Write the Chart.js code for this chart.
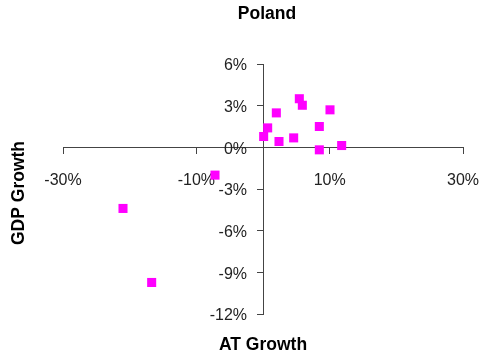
<!DOCTYPE html>
<html>
<head>
<meta charset="utf-8">
<script src="https://cdn.jsdelivr.net/npm/chart.js@4/dist/chart.umd.min.js"></script>
<style>
html,body{margin:0;padding:0;background:#fff;}
#wrap{width:486px;height:360px;position:relative;}
</style>
</head>
<body>
<div id="wrap"><canvas id="c" width="486" height="360"></canvas></div>
<script>
const chartTitle = "Poland";
const xAxisTitle = "AT Growth";
const yAxisTitle = "GDP Growth";
const atGrowth  = [0.1, 0.7, 2.0, 2.4, 4.6, 5.45, 5.9, 8.45, 8.45, 10.05, 11.8, -7.2, -21.0, -16.7];
const gdpGrowth = [0.78, 1.4, 2.48, 0.42, 0.68, 3.5, 3.03, 1.5, -0.18, 2.7, 0.13, -2.0, -4.4, -9.73];
const xTicks = [-30, -10, 10, 30];
const yTicks = [-12, -9, -6, -3, 0, 3, 6];

const points = atGrowth.map((x, i) => ({x: x, y: gdpGrowth[i]}));
const FONT = "'Liberation Sans', Arial, sans-serif";

const textPlugin = {
  id: 'texts',
  afterDraw(chart) {
    const ctx = chart.ctx;
    const a = chart.chartArea;
    ctx.save();
    ctx.fillStyle = '#000';
    ctx.font = 'bold 17.5px ' + FONT;
    ctx.textAlign = 'center';
    ctx.textBaseline = 'middle';
    ctx.fillText(chartTitle, (a.left + a.right) / 2 + 4, 14.5);
    ctx.fillText(xAxisTitle, (a.left + a.right) / 2, 345);
    ctx.translate(19, (a.top + a.bottom) / 2 + 4);
    ctx.rotate(-Math.PI / 2);
    ctx.fillText(yAxisTitle, 0, 0);
    ctx.restore();
  }
};

const noPadX = s => { s.height = 0; s.paddingLeft = 0; s.paddingRight = 0; s.paddingTop = 0; s.paddingBottom = 0; };
const noPadY = s => { s.width = 0; s.paddingLeft = 0; s.paddingRight = 0; s.paddingTop = 0; s.paddingBottom = 0; };

new Chart(document.getElementById('c'), {
  type: 'scatter',
  data: {
    datasets: [{
      data: points,
      pointStyle: 'rect',
      pointRadius: 6.4,
      pointHoverRadius: 6.4,
      backgroundColor: '#FF00FF',
      borderColor: '#FF00FF',
      borderWidth: 0
    }]
  },
  options: {
    responsive: false,
    animation: false,
    events: [],
    layout: { padding: { left: 63, right: 23, top: 64, bottom: 46 } },
    plugins: { legend: { display: false }, tooltip: { enabled: false }, title: { display: false } },
    scales: {
      x: {
        type: 'linear',
        position: { y: 0 },
        min: -30, max: 30,
        afterFit: noPadX,
        afterBuildTicks: s => { s.ticks = xTicks.map(v => ({value: v})); },
        border: { display: true, color: '#444', width: 1 },
        grid: { drawOnChartArea: false, drawTicks: true, tickLength: 6, color: '#444' },
        ticks: { padding: 18, color: '#222', font: { family: FONT, size: 16 }, maxRotation: 0, callback: v => v + '%' }
      },
      y: {
        type: 'linear',
        position: { x: 0 },
        min: -12, max: 6,
        afterFit: noPadY,
        afterBuildTicks: s => { s.ticks = yTicks.map(v => ({value: v})); },
        border: { display: true, color: '#444', width: 1 },
        grid: { drawOnChartArea: false, drawTicks: true, tickLength: 6, color: '#444' },
        ticks: { display: false }
      },
      yLabels: {
        type: 'linear',
        axis: 'y',
        position: { x: -2.4 },
        min: -12, max: 6,
        afterFit: noPadY,
        afterBuildTicks: s => { s.ticks = yTicks.map(v => ({value: v})); },
        border: { display: false },
        grid: { display: false },
        ticks: { color: '#222', labelOffset: 2, font: { family: FONT, size: 16 }, callback: v => v + '%' }
      }
    }
  },
  plugins: [textPlugin]
});
</script>
</body>
</html>
